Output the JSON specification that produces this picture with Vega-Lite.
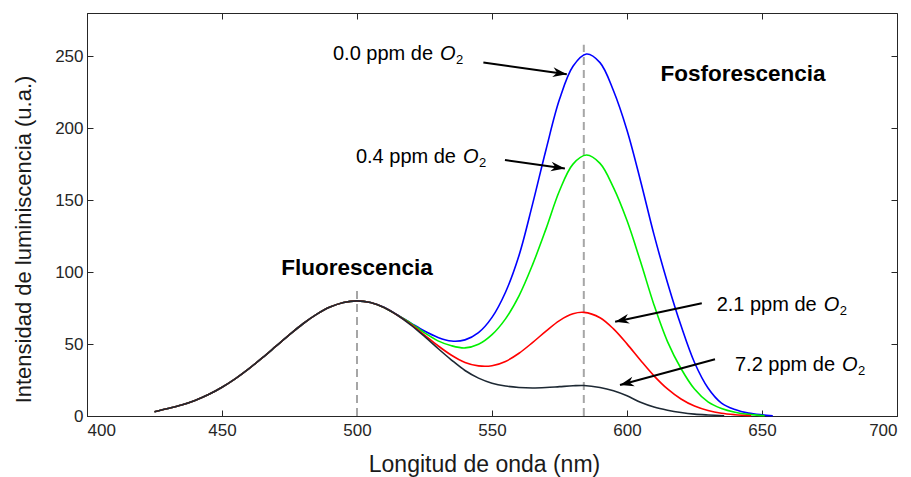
{
  "$schema": "https://vega.github.io/schema/vega-lite/v6.json",
  "width": 810,
  "height": 403,
  "autosize": {"type": "none"},
  "padding": {"left": 87, "top": 13, "right": 14, "bottom": 61},
  "background": "white",
  "config": {
    "font": "Liberation Sans",
    "view": {"stroke": "#262626", "strokeWidth": 1},
    "axis": {
      "grid": false,
      "labelFont": "Liberation Sans",
      "labelFontSize": 17,
      "labelColor": "#262626",
      "titleFont": "Liberation Sans",
      "titleFontSize": 23,
      "titleFontWeight": "normal",
      "titleColor": "#1a1a1a",
      "tickColor": "#262626",
      "domainColor": "#262626",
      "tickSize": -6,
      "tickWidth": 1
    }
  },
  "datasets": {
    "spectra": [
      {"longitud":425,"intensidad":3.0,"serie":"0.0 ppm"},{"longitud":430,"intensidad":5.2,"serie":"0.0 ppm"},{"longitud":435,"intensidad":7.6,"serie":"0.0 ppm"},{"longitud":440,"intensidad":10.8,"serie":"0.0 ppm"},{"longitud":445,"intensidad":14.9,"serie":"0.0 ppm"},{"longitud":450,"intensidad":20.0,"serie":"0.0 ppm"},{"longitud":455,"intensidad":26.0,"serie":"0.0 ppm"},{"longitud":460,"intensidad":32.9,"serie":"0.0 ppm"},{"longitud":465,"intensidad":40.5,"serie":"0.0 ppm"},{"longitud":470,"intensidad":48.5,"serie":"0.0 ppm"},{"longitud":475,"intensidad":56.5,"serie":"0.0 ppm"},{"longitud":480,"intensidad":64.1,"serie":"0.0 ppm"},{"longitud":485,"intensidad":70.6,"serie":"0.0 ppm"},{"longitud":490,"intensidad":75.7,"serie":"0.0 ppm"},{"longitud":495,"intensidad":78.9,"serie":"0.0 ppm"},{"longitud":500,"intensidad":80.0,"serie":"0.0 ppm"},{"longitud":505,"intensidad":78.8,"serie":"0.0 ppm"},{"longitud":510,"intensidad":75.5,"serie":"0.0 ppm"},{"longitud":515,"intensidad":70.2,"serie":"0.0 ppm"},{"longitud":520,"intensidad":64.5,"serie":"0.0 ppm"},{"longitud":525,"intensidad":59.0,"serie":"0.0 ppm"},{"longitud":530,"intensidad":54.6,"serie":"0.0 ppm"},{"longitud":535,"intensidad":52.1,"serie":"0.0 ppm"},{"longitud":540,"intensidad":52.9,"serie":"0.0 ppm"},{"longitud":545,"intensidad":57.9,"serie":"0.0 ppm"},{"longitud":550,"intensidad":68.5,"serie":"0.0 ppm"},{"longitud":555,"intensidad":86.0,"serie":"0.0 ppm"},{"longitud":560,"intensidad":111.5,"serie":"0.0 ppm"},{"longitud":565,"intensidad":147.0,"serie":"0.0 ppm"},{"longitud":570,"intensidad":185.0,"serie":"0.0 ppm"},{"longitud":575,"intensidad":220.0,"serie":"0.0 ppm"},{"longitud":580,"intensidad":243.0,"serie":"0.0 ppm"},{"longitud":585,"intensidad":251.5,"serie":"0.0 ppm"},{"longitud":590,"intensidad":245.5,"serie":"0.0 ppm"},{"longitud":595,"intensidad":226.0,"serie":"0.0 ppm"},{"longitud":600,"intensidad":198.6,"serie":"0.0 ppm"},{"longitud":605,"intensidad":163.5,"serie":"0.0 ppm"},{"longitud":610,"intensidad":126.0,"serie":"0.0 ppm"},{"longitud":615,"intensidad":92.6,"serie":"0.0 ppm"},{"longitud":620,"intensidad":62.8,"serie":"0.0 ppm"},{"longitud":625,"intensidad":37.2,"serie":"0.0 ppm"},{"longitud":630,"intensidad":19.5,"serie":"0.0 ppm"},{"longitud":635,"intensidad":9.0,"serie":"0.0 ppm"},{"longitud":640,"intensidad":4.5,"serie":"0.0 ppm"},{"longitud":645,"intensidad":2.0,"serie":"0.0 ppm"},{"longitud":650,"intensidad":0.8,"serie":"0.0 ppm"},{"longitud":654,"intensidad":0.2,"serie":"0.0 ppm"},

      {"longitud":425,"intensidad":3.0,"serie":"0.4 ppm"},{"longitud":430,"intensidad":5.2,"serie":"0.4 ppm"},{"longitud":435,"intensidad":7.6,"serie":"0.4 ppm"},{"longitud":440,"intensidad":10.8,"serie":"0.4 ppm"},{"longitud":445,"intensidad":14.9,"serie":"0.4 ppm"},{"longitud":450,"intensidad":20.0,"serie":"0.4 ppm"},{"longitud":455,"intensidad":26.0,"serie":"0.4 ppm"},{"longitud":460,"intensidad":32.9,"serie":"0.4 ppm"},{"longitud":465,"intensidad":40.5,"serie":"0.4 ppm"},{"longitud":470,"intensidad":48.5,"serie":"0.4 ppm"},{"longitud":475,"intensidad":56.5,"serie":"0.4 ppm"},{"longitud":480,"intensidad":64.1,"serie":"0.4 ppm"},{"longitud":485,"intensidad":70.6,"serie":"0.4 ppm"},{"longitud":490,"intensidad":75.7,"serie":"0.4 ppm"},{"longitud":495,"intensidad":78.9,"serie":"0.4 ppm"},{"longitud":500,"intensidad":80.0,"serie":"0.4 ppm"},{"longitud":505,"intensidad":78.8,"serie":"0.4 ppm"},{"longitud":510,"intensidad":75.4,"serie":"0.4 ppm"},{"longitud":515,"intensidad":70.1,"serie":"0.4 ppm"},{"longitud":520,"intensidad":64.4,"serie":"0.4 ppm"},{"longitud":525,"intensidad":57.8,"serie":"0.4 ppm"},{"longitud":530,"intensidad":52.2,"serie":"0.4 ppm"},{"longitud":535,"intensidad":48.8,"serie":"0.4 ppm"},{"longitud":540,"intensidad":47.3,"serie":"0.4 ppm"},{"longitud":545,"intensidad":49.8,"serie":"0.4 ppm"},{"longitud":550,"intensidad":56.5,"serie":"0.4 ppm"},{"longitud":555,"intensidad":67.5,"serie":"0.4 ppm"},{"longitud":560,"intensidad":83.5,"serie":"0.4 ppm"},{"longitud":565,"intensidad":105.0,"serie":"0.4 ppm"},{"longitud":570,"intensidad":130.0,"serie":"0.4 ppm"},{"longitud":575,"intensidad":156.5,"serie":"0.4 ppm"},{"longitud":580,"intensidad":175.0,"serie":"0.4 ppm"},{"longitud":585,"intensidad":181.3,"serie":"0.4 ppm"},{"longitud":590,"intensidad":175.5,"serie":"0.4 ppm"},{"longitud":595,"intensidad":158.7,"serie":"0.4 ppm"},{"longitud":600,"intensidad":135.8,"serie":"0.4 ppm"},{"longitud":605,"intensidad":107.3,"serie":"0.4 ppm"},{"longitud":610,"intensidad":77.2,"serie":"0.4 ppm"},{"longitud":615,"intensidad":51.7,"serie":"0.4 ppm"},{"longitud":620,"intensidad":33.0,"serie":"0.4 ppm"},{"longitud":625,"intensidad":18.7,"serie":"0.4 ppm"},{"longitud":630,"intensidad":9.8,"serie":"0.4 ppm"},{"longitud":635,"intensidad":5.2,"serie":"0.4 ppm"},{"longitud":640,"intensidad":2.6,"serie":"0.4 ppm"},{"longitud":645,"intensidad":1.1,"serie":"0.4 ppm"},{"longitud":651,"intensidad":0.2,"serie":"0.4 ppm"},

      {"longitud":425,"intensidad":3.0,"serie":"2.1 ppm"},{"longitud":430,"intensidad":5.2,"serie":"2.1 ppm"},{"longitud":435,"intensidad":7.6,"serie":"2.1 ppm"},{"longitud":440,"intensidad":10.8,"serie":"2.1 ppm"},{"longitud":445,"intensidad":14.9,"serie":"2.1 ppm"},{"longitud":450,"intensidad":20.0,"serie":"2.1 ppm"},{"longitud":455,"intensidad":26.0,"serie":"2.1 ppm"},{"longitud":460,"intensidad":32.9,"serie":"2.1 ppm"},{"longitud":465,"intensidad":40.5,"serie":"2.1 ppm"},{"longitud":470,"intensidad":48.5,"serie":"2.1 ppm"},{"longitud":475,"intensidad":56.5,"serie":"2.1 ppm"},{"longitud":480,"intensidad":64.1,"serie":"2.1 ppm"},{"longitud":485,"intensidad":70.6,"serie":"2.1 ppm"},{"longitud":490,"intensidad":75.7,"serie":"2.1 ppm"},{"longitud":495,"intensidad":78.9,"serie":"2.1 ppm"},{"longitud":500,"intensidad":80.0,"serie":"2.1 ppm"},{"longitud":505,"intensidad":78.8,"serie":"2.1 ppm"},{"longitud":510,"intensidad":75.4,"serie":"2.1 ppm"},{"longitud":515,"intensidad":70.0,"serie":"2.1 ppm"},{"longitud":520,"intensidad":63.6,"serie":"2.1 ppm"},{"longitud":525,"intensidad":56.2,"serie":"2.1 ppm"},{"longitud":530,"intensidad":48.8,"serie":"2.1 ppm"},{"longitud":535,"intensidad":42.2,"serie":"2.1 ppm"},{"longitud":540,"intensidad":37.2,"serie":"2.1 ppm"},{"longitud":545,"intensidad":34.8,"serie":"2.1 ppm"},{"longitud":550,"intensidad":34.9,"serie":"2.1 ppm"},{"longitud":555,"intensidad":37.9,"serie":"2.1 ppm"},{"longitud":560,"intensidad":43.6,"serie":"2.1 ppm"},{"longitud":565,"intensidad":51.0,"serie":"2.1 ppm"},{"longitud":570,"intensidad":59.0,"serie":"2.1 ppm"},{"longitud":575,"intensidad":66.3,"serie":"2.1 ppm"},{"longitud":580,"intensidad":71.0,"serie":"2.1 ppm"},{"longitud":584,"intensidad":72.0,"serie":"2.1 ppm"},{"longitud":590,"intensidad":68.3,"serie":"2.1 ppm"},{"longitud":595,"intensidad":60.5,"serie":"2.1 ppm"},{"longitud":600,"intensidad":50.1,"serie":"2.1 ppm"},{"longitud":605,"intensidad":38.7,"serie":"2.1 ppm"},{"longitud":610,"intensidad":27.9,"serie":"2.1 ppm"},{"longitud":615,"intensidad":18.8,"serie":"2.1 ppm"},{"longitud":620,"intensidad":11.8,"serie":"2.1 ppm"},{"longitud":625,"intensidad":6.9,"serie":"2.1 ppm"},{"longitud":630,"intensidad":3.8,"serie":"2.1 ppm"},{"longitud":635,"intensidad":1.9,"serie":"2.1 ppm"},{"longitud":640,"intensidad":0.9,"serie":"2.1 ppm"},{"longitud":646,"intensidad":0.2,"serie":"2.1 ppm"},

      {"longitud":425,"intensidad":3.0,"serie":"7.2 ppm"},{"longitud":430,"intensidad":5.2,"serie":"7.2 ppm"},{"longitud":435,"intensidad":7.6,"serie":"7.2 ppm"},{"longitud":440,"intensidad":10.8,"serie":"7.2 ppm"},{"longitud":445,"intensidad":14.9,"serie":"7.2 ppm"},{"longitud":450,"intensidad":20.0,"serie":"7.2 ppm"},{"longitud":455,"intensidad":26.0,"serie":"7.2 ppm"},{"longitud":460,"intensidad":32.9,"serie":"7.2 ppm"},{"longitud":465,"intensidad":40.5,"serie":"7.2 ppm"},{"longitud":470,"intensidad":48.5,"serie":"7.2 ppm"},{"longitud":475,"intensidad":56.5,"serie":"7.2 ppm"},{"longitud":480,"intensidad":64.1,"serie":"7.2 ppm"},{"longitud":485,"intensidad":70.6,"serie":"7.2 ppm"},{"longitud":490,"intensidad":75.7,"serie":"7.2 ppm"},{"longitud":495,"intensidad":78.9,"serie":"7.2 ppm"},{"longitud":500,"intensidad":80.0,"serie":"7.2 ppm"},{"longitud":505,"intensidad":78.8,"serie":"7.2 ppm"},{"longitud":510,"intensidad":75.4,"serie":"7.2 ppm"},{"longitud":515,"intensidad":70.0,"serie":"7.2 ppm"},{"longitud":520,"intensidad":63.2,"serie":"7.2 ppm"},{"longitud":525,"intensidad":55.3,"serie":"7.2 ppm"},{"longitud":530,"intensidad":46.9,"serie":"7.2 ppm"},{"longitud":535,"intensidad":38.9,"serie":"7.2 ppm"},{"longitud":540,"intensidad":31.6,"serie":"7.2 ppm"},{"longitud":545,"intensidad":26.3,"serie":"7.2 ppm"},{"longitud":550,"intensidad":22.8,"serie":"7.2 ppm"},{"longitud":555,"intensidad":20.8,"serie":"7.2 ppm"},{"longitud":560,"intensidad":19.8,"serie":"7.2 ppm"},{"longitud":565,"intensidad":19.5,"serie":"7.2 ppm"},{"longitud":570,"intensidad":19.8,"serie":"7.2 ppm"},{"longitud":575,"intensidad":20.4,"serie":"7.2 ppm"},{"longitud":580,"intensidad":21.0,"serie":"7.2 ppm"},{"longitud":584,"intensidad":21.2,"serie":"7.2 ppm"},{"longitud":590,"intensidad":19.8,"serie":"7.2 ppm"},{"longitud":595,"intensidad":17.5,"serie":"7.2 ppm"},{"longitud":600,"intensidad":14.0,"serie":"7.2 ppm"},{"longitud":605,"intensidad":9.5,"serie":"7.2 ppm"},{"longitud":610,"intensidad":6.2,"serie":"7.2 ppm"},{"longitud":615,"intensidad":4.0,"serie":"7.2 ppm"},{"longitud":620,"intensidad":2.4,"serie":"7.2 ppm"},{"longitud":625,"intensidad":1.3,"serie":"7.2 ppm"},{"longitud":630,"intensidad":0.7,"serie":"7.2 ppm"},{"longitud":636,"intensidad":0.2,"serie":"7.2 ppm"}
    ],
    "guides": [
      {"longitud": 500, "desde": 0, "hasta": 88},
      {"longitud": 584, "desde": 0, "hasta": 258}
    ],
    "arrows": [
      {"id": 1, "x0": 546.8, "y0": 245.6, "x1": 577.7, "y1": 237.5},
      {"id": 2, "x0": 554.8, "y0": 177.8, "x1": 577.0, "y1": 172.0},
      {"id": 3, "x0": 627.7, "y0": 78.3, "x1": 595.6, "y1": 65.5},
      {"id": 4, "x0": 632.6, "y0": 39.4, "x1": 597.4, "y1": 21.5}
    ],
    "notes": [
      {"longitud": 491.1, "intensidad": 251.4, "label": "0.0 ppm de"},
      {"longitud": 499.6, "intensidad": 180.0, "label": "0.4 ppm de"},
      {"longitud": 633.2, "intensidad": 77.0, "label": "2.1 ppm de"},
      {"longitud": 640.0, "intensidad": 35.4, "label": "7.2 ppm de"}
    ],
    "regions": [
      {"longitud": 500, "intensidad": 102.8, "label": "Fluorescencia"},
      {"longitud": 643, "intensidad": 237.5, "label": "Fosforescencia"}
    ]
  },
  "layer": [
    {
      "data": {"name": "guides"},
      "mark": {"type": "rule", "color": "#a6a6a6", "strokeWidth": 2, "strokeDash": [8, 5]},
      "encoding": {
        "x": {"field": "longitud", "type": "quantitative", "scale": {"domain": [400, 700]},
              "axis": {"orient": "top", "values": [400, 450, 500, 550, 600, 650, 700], "labels": false, "title": null, "domain": false}},
        "y": {"field": "desde", "type": "quantitative", "scale": {"domain": [0, 280]},
              "axis": {"orient": "right", "values": [0, 50, 100, 150, 200, 250], "labels": false, "title": null, "domain": false}},
        "y2": {"field": "hasta"}
      }
    },
    {
      "data": {"name": "spectra"},
      "mark": {"type": "line", "interpolate": "catmull-rom", "strokeWidth": 1.6},
      "encoding": {
        "x": {"field": "longitud", "type": "quantitative", "scale": {"domain": [400, 700]},
              "axis": {"orient": "bottom", "values": [400, 450, 500, 550, 600, 650, 700], "labelPadding": 12,
                       "title": "Longitud de onda (nm)", "titlePadding": 15, "titleX": 397}},
        "y": {"field": "intensidad", "type": "quantitative", "scale": {"domain": [0, 280]},
              "axis": {"orient": "left", "values": [0, 50, 100, 150, 200, 250], "labelPadding": 10,
                       "title": "Intensidad de luminiscencia (u.a.)", "titleFontSize": 22, "titlePadding": 19, "titleY": 226}},
        "color": {"field": "serie", "type": "nominal",
                  "scale": {"domain": ["0.0 ppm", "0.4 ppm", "2.1 ppm", "7.2 ppm"],
                            "range": ["#0000ff", "#00f000", "#ff0000", "#1d2833"]},
                  "legend": null}
      }
    },
    {
      "data": {"name": "arrows"},
      "mark": {"type": "rule", "color": "#000000", "strokeWidth": 2},
      "encoding": {
        "x": {"field": "x0", "type": "quantitative", "scale": {"domain": [400, 700]}, "axis": null},
        "y": {"field": "y0", "type": "quantitative", "scale": {"domain": [0, 280]}, "axis": null},
        "x2": {"field": "x1"},
        "y2": {"field": "y1"}
      }
    },
    {
      "data": {"name": "arrows"},
      "transform": [{"filter": "datum.id == 1"}],
      "mark": {"type": "point", "shape": "M0,0L-2,-0.7L-1.4,0L-2,0.7Z", "size": 196, "filled": true, "color": "#000000", "opacity": 1, "angle": 8},
      "encoding": {
        "x": {"field": "x1", "type": "quantitative", "scale": {"domain": [400, 700]}, "axis": null},
        "y": {"field": "y1", "type": "quantitative", "scale": {"domain": [0, 280]}, "axis": null}
      }
    },
    {
      "data": {"name": "arrows"},
      "transform": [{"filter": "datum.id == 2"}],
      "mark": {"type": "point", "shape": "M0,0L-2,-0.7L-1.4,0L-2,0.7Z", "size": 196, "filled": true, "color": "#000000", "opacity": 1, "angle": 8},
      "encoding": {
        "x": {"field": "x1", "type": "quantitative", "scale": {"domain": [400, 700]}, "axis": null},
        "y": {"field": "y1", "type": "quantitative", "scale": {"domain": [0, 280]}, "axis": null}
      }
    },
    {
      "data": {"name": "arrows"},
      "transform": [{"filter": "datum.id == 3"}],
      "mark": {"type": "point", "shape": "M0,0L-2,-0.7L-1.4,0L-2,0.7Z", "size": 196, "filled": true, "color": "#000000", "opacity": 1, "angle": 168},
      "encoding": {
        "x": {"field": "x1", "type": "quantitative", "scale": {"domain": [400, 700]}, "axis": null},
        "y": {"field": "y1", "type": "quantitative", "scale": {"domain": [0, 280]}, "axis": null}
      }
    },
    {
      "data": {"name": "arrows"},
      "transform": [{"filter": "datum.id == 4"}],
      "mark": {"type": "point", "shape": "M0,0L-2,-0.7L-1.4,0L-2,0.7Z", "size": 196, "filled": true, "color": "#000000", "opacity": 1, "angle": 165},
      "encoding": {
        "x": {"field": "x1", "type": "quantitative", "scale": {"domain": [400, 700]}, "axis": null},
        "y": {"field": "y1", "type": "quantitative", "scale": {"domain": [0, 280]}, "axis": null}
      }
    },
    {
      "data": {"name": "notes"},
      "mark": {"type": "text", "align": "left", "baseline": "middle", "fontSize": 20, "color": "#000000"},
      "encoding": {
        "x": {"field": "longitud", "type": "quantitative", "scale": {"domain": [400, 700]}, "axis": null},
        "y": {"field": "intensidad", "type": "quantitative", "scale": {"domain": [0, 280]}, "axis": null},
        "text": {"field": "label"}
      }
    },
    {
      "data": {"name": "notes"},
      "mark": {"type": "text", "align": "left", "baseline": "middle", "fontSize": 20, "fontStyle": "italic", "color": "#000000", "dx": 107, "text": "O"},
      "encoding": {
        "x": {"field": "longitud", "type": "quantitative", "scale": {"domain": [400, 700]}, "axis": null},
        "y": {"field": "intensidad", "type": "quantitative", "scale": {"domain": [0, 280]}, "axis": null}
      }
    },
    {
      "data": {"name": "notes"},
      "mark": {"type": "text", "align": "left", "baseline": "middle", "fontSize": 13, "color": "#000000", "dx": 123, "dy": 6, "text": "2"},
      "encoding": {
        "x": {"field": "longitud", "type": "quantitative", "scale": {"domain": [400, 700]}, "axis": null},
        "y": {"field": "intensidad", "type": "quantitative", "scale": {"domain": [0, 280]}, "axis": null}
      }
    },
    {
      "data": {"name": "regions"},
      "mark": {"type": "text", "align": "center", "baseline": "middle", "fontSize": 22.5, "fontWeight": "bold", "color": "#000000"},
      "encoding": {
        "x": {"field": "longitud", "type": "quantitative", "scale": {"domain": [400, 700]}, "axis": null},
        "y": {"field": "intensidad", "type": "quantitative", "scale": {"domain": [0, 280]}, "axis": null},
        "text": {"field": "label"}
      }
    }
  ],
  "resolve": {"axis": {"x": "independent", "y": "independent"}}
}
